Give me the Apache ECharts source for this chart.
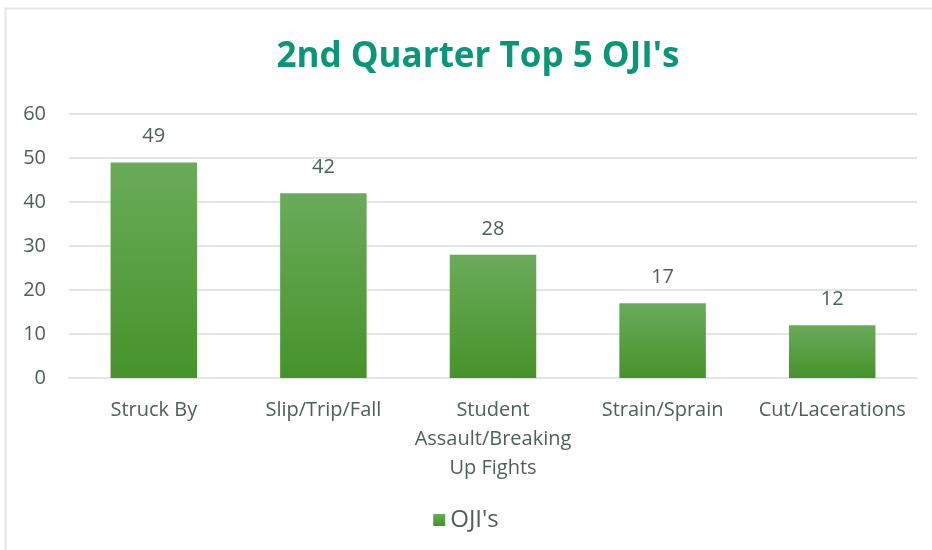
<!DOCTYPE html>
<html><head><meta charset="utf-8">
<script src="https://cdn.jsdelivr.net/npm/echarts@6/dist/echarts.min.js"></script>
<style>html,body{margin:0;padding:0;background:#fff}#c{width:932px;height:550px}</style>
</head><body><div id="c"></div>
<script>
const categories = ['Struck By','Slip/Trip/Fall','Student\nAssault/Breaking\nUp Fights','Strain/Sprain','Cut/Lacerations'];
const values = [49, 42, 28, 17, 12];
const seriesName = "OJI's";
const titleText = "2nd Quarter Top 5 OJI's";

const chart = echarts.init(document.getElementById('c'));
const txt = '#4d6158';
const font = "'Open Sans', 'Noto Sans', sans-serif";
chart.setOption({
  animation: false,
  backgroundColor: '#fff',
  title: { text: titleText, left: 473, top: 35, textAlign: 'center',
    textStyle: { color: '#0a9678', fontSize: 35, fontWeight: 'bold', fontFamily: font } },
  graphic: [
    { type: 'line', shape: { x1: 5.5, y1: 8, x2: 5.5, y2: 550 }, style: { stroke: '#e2e7e4', lineWidth: 2 } },
    { type: 'line', shape: { x1: 5, y1: 8.5, x2: 932, y2: 8.5 }, style: { stroke: '#e2e7e4', lineWidth: 2 } }
  ],
  grid: { left: 69, right: 15, top: 114, bottom: 172, containLabel: false },
  legend: { bottom: 13, left: 'center', itemWidth: 12, itemHeight: 12, itemGap: 6,
    icon: 'rect',
    textStyle: { color: txt, fontSize: 24, fontFamily: font } },
  xAxis: { type: 'category', data: categories,
    axisLine: { lineStyle: { color: '#e0e6e3', width: 2 } }, axisTick: { show: false },
    axisLabel: { color: txt, fontSize: 20, fontFamily: font, margin: 18, lineHeight: 29, interval: 0 } },
  yAxis: { type: 'value', min: 0, max: 60, interval: 10,
    axisLine: { show: false }, axisTick: { show: false },
    splitLine: { lineStyle: { color: '#e0e6e3', width: 2 } },
    axisLabel: { color: txt, fontSize: 20, fontFamily: font, margin: 23 } },
  series: [{ name: seriesName, type: 'bar', data: values, barWidth: '51%',
    itemStyle: { color: new echarts.graphic.LinearGradient(0,0,0,1,[{offset:0,color:'#6aab5a'},{offset:1,color:'#46932a'}]) },
    label: { show: true, position: 'top', distance: 16, color: txt, fontSize: 20, fontFamily: font } }]
});
</script></body></html>
